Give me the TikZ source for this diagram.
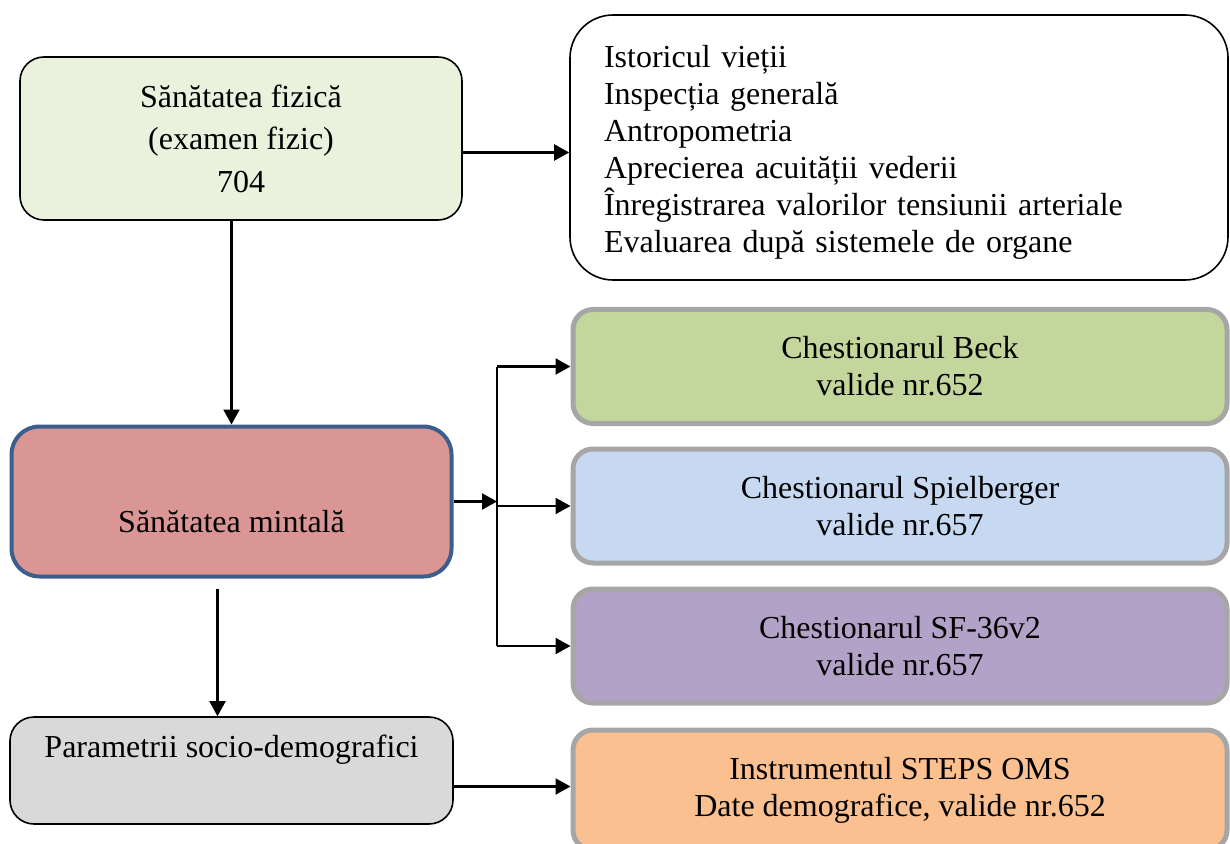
\documentclass[tikz,border=0pt]{standalone}
\usepackage{fontspec}
\setmainfont{Liberation Serif}
\usetikzlibrary{arrows.meta}
\definecolor{fizc}{HTML}{EAF1DD}
\definecolor{mentc}{HTML}{D99694}
\definecolor{mentb}{HTML}{3B5E8C}
\definecolor{socc}{HTML}{D9D9D9}
\definecolor{grayb}{HTML}{A6A6A6}
\definecolor{beckc}{HTML}{C3D69B}
\definecolor{spielc}{HTML}{C6D9F1}
\definecolor{sfc}{HTML}{B3A2C7}
\definecolor{stepsc}{HTML}{FAC090}
\begin{document}
\begin{tikzpicture}[x=0.5pt,y=-0.5pt,
  box/.style={draw=black, line width=0.8pt, rounded corners=12pt, align=center,
    font=\fontsize{16}{18.5}\selectfont, inner sep=0pt},
  qbox/.style={box, draw=grayb, line width=2.5pt, rounded corners=10pt,
    minimum width=327pt, minimum height=57pt},
  conn/.style={line width=1.1pt},
  arr/.style={conn, -{Triangle[length=7.5pt,width=8pt]}}]
\useasboundingbox (0,0) rectangle (1230,844);
\clip (0,0) rectangle (1230,844);
% left column
\node[box, fill=fizc, minimum width=221pt, minimum height=81.5pt,
  font=\fontsize{16}{21.25}\selectfont] (fiz) at (241,138.5)
  {Sănătatea fizică\\(examen fizic)\\704};
\node[box, fill=mentc, draw=mentb, line width=2pt, rounded corners=14pt,
  minimum width=220pt, minimum height=75pt] (ment) at (231.5,501.5)
  {\strut\\Sănătatea mintală};
\node[box, fill=socc, minimum width=221.5pt, minimum height=53.5pt] (soc) at (231.5,770.5)
  {Parametrii socio-demografici\\\strut};
% right column
\node[box, fill=white, rounded corners=21.5pt, align=left, text width=295pt,
  inner xsep=17pt, minimum height=132.5pt] (ist) at (899,147.5)
  {\rule{0pt}{16pt}Istoricul vieții\\Inspecția generală\\Antropometria\\Aprecierea acuității vederii\\Înregistrarea valorilor tensiunii arteriale\\Evaluarea după sistemele de organe};
\node[qbox, fill=beckc] (beck) at (900,366.5) {Chestionarul Beck\\valide nr.652};
\node[qbox, fill=spielc] (spiel) at (900,506) {Chestionarul Spielberger\\valide nr.657};
\node[qbox, fill=sfc] (sf) at (900,646) {Chestionarul SF-36v2\\valide nr.657};
\node[qbox, fill=stepsc, minimum height=60pt] (steps) at (900,790)
  {Instrumentul STEPS OMS\\Date demografice, valide nr.652};
% connectors
\coordinate (bus) at (497,506);
\draw[arr] ([yshift=-7pt]fiz.east) -- ([yshift=-7pt]fiz.east -| ist.west);
\draw[arr] (fiz.south -| ment.north) -- (ment.north);
\draw[arr] (ment.east) -- (ment.east -| bus);
\draw[conn] (bus |- beck.west) -- (bus |- sf.west);
\draw[arr] (bus |- beck.west) -- (beck.west);
\draw[arr] (bus |- spiel.west) -- (spiel.west);
\draw[arr] (bus |- sf.west) -- (sf.west);
\draw[arr] ([xshift=-7pt,yshift=-5pt]ment.south) -- ([xshift=-7pt]soc.north);
\draw[arr] ([yshift=-8pt]soc.east) -- ([yshift=-8pt]soc.east -| steps.west);
\end{tikzpicture}
\end{document}
